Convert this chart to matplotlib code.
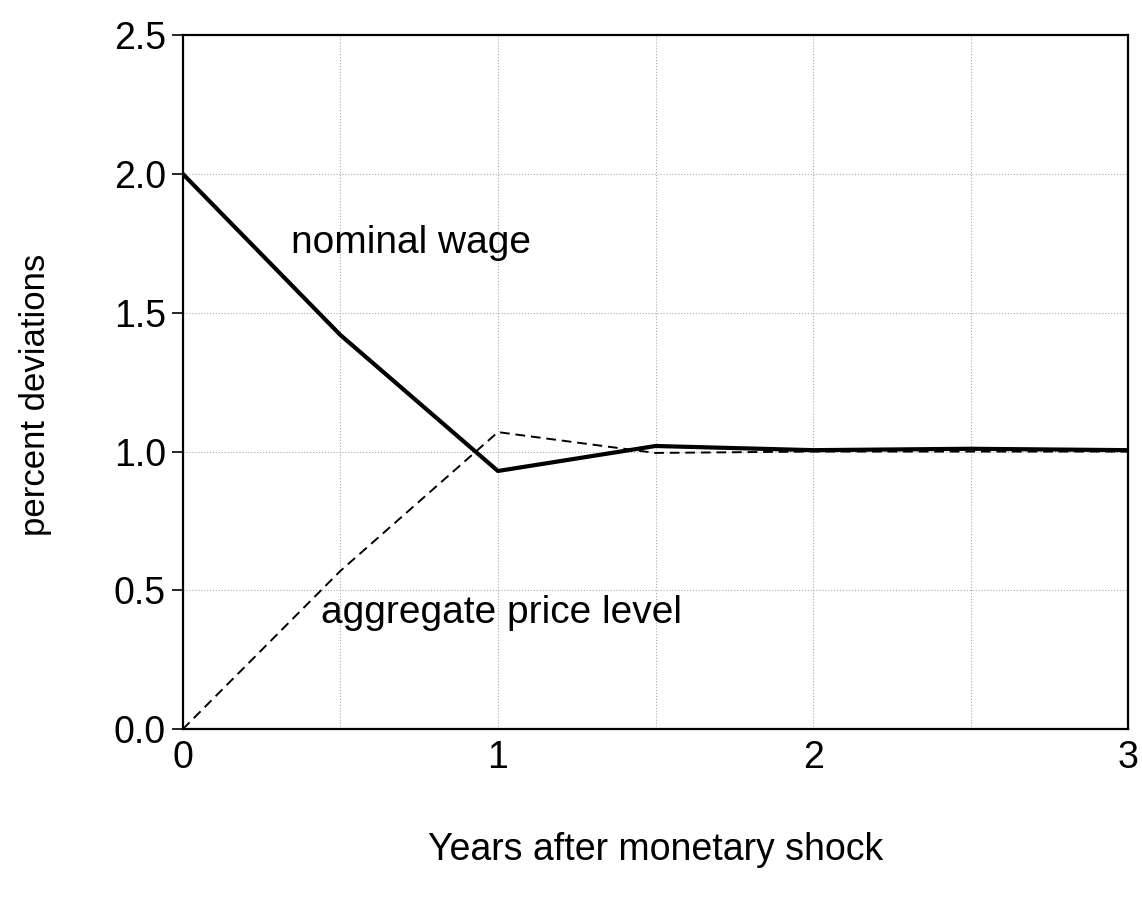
import matplotlib.pyplot as plt
import numpy as np

# years after the shock and responses (percent deviations)
years = [0.0, 0.5, 1.0, 1.5, 2.0, 2.5, 3.0]
nominal_wage = [2.0, 1.42, 0.93, 1.02, 1.005, 1.01, 1.005]
price_level = [0.0, 0.57, 1.07, 0.995, 1.0, 1.0, 1.0]

x_ticks = [0, 1, 2, 3]
y_ticks = [0.0, 0.5, 1.0, 1.5, 2.0, 2.5]

plt.rcParams['font.family'] = ['Liberation Sans', 'DejaVu Sans']

fig = plt.figure(figsize=(11.42, 8.97), dpi=100)
ax = fig.add_axes([0.160, 0.187, 0.828, 0.774])

# dotted grid at half-year / half-percent steps
for gx in np.arange(0.5, 3.0, 0.5):
    ax.axvline(gx, color='#aaaaaa', lw=0.8, ls=':', zorder=0)
for gy in np.arange(0.5, 2.5, 0.5):
    ax.axhline(gy, color='#aaaaaa', lw=0.8, ls=':', zorder=0)

ax.plot(years, price_level, color='black', lw=1.4, ls=(0, (5, 3)))
ax.plot(years, nominal_wage, color='black', lw=3.0)

ax.text(0.345, 1.75, 'nominal wage', fontsize=28, va='center', ha='left')
ax.text(0.44, 0.42, 'aggregate price level', fontsize=28, va='center', ha='left')

ax.set_xlim(0, 3)
ax.set_ylim(0, 2.5)
ax.set_xticks(x_ticks)
ax.set_xticklabels([str(t) for t in x_ticks])
ax.set_yticks(y_ticks)
ax.set_yticklabels([f'{t:.1f}' for t in y_ticks])
ax.tick_params(axis='x', length=0, pad=8, labelsize=27)
ax.tick_params(axis='y', length=8, width=1.2, pad=4, labelsize=27)

for sp in ax.spines.values():
    sp.set_linewidth(1.6)

fig.text(0.031, 0.56, 'percent deviations', rotation=90, fontsize=25,
         ha='center', va='center')
fig.text(0.574, 0.052, 'Years after monetary shock', fontsize=27,
         ha='center', va='center')

fig.savefig('out.png', dpi=100)
